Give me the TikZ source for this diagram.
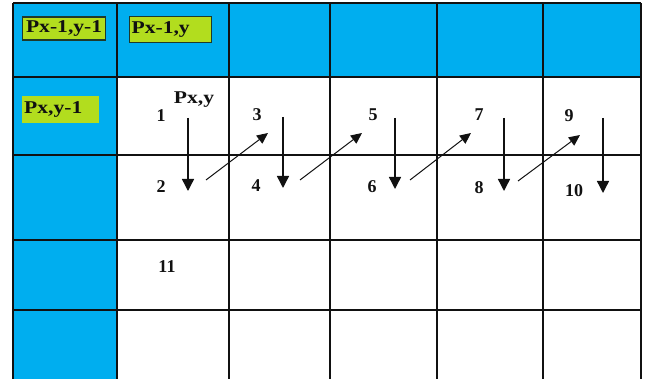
\documentclass[tikz,border=0pt]{standalone}
\usepackage{fontspec}
\setmainfont{Liberation Serif}
\usepackage{xcolor}
\usepackage{tikz}
\usetikzlibrary{positioning, arrows.meta}
\definecolor{gBlue}{HTML}{00AEEF}
\definecolor{gLime}{HTML}{B2DD1E}
\definecolor{gInk}{HTML}{111111}
\definecolor{gEdge}{HTML}{1F3A2A}
\newcommand{\widetext}[1]{\scalebox{1.2}[1]{#1}}
\tikzset{
  gridline/.style={line width=2.6pt, gInk},
  pixlabel/.style={fill=gLime, inner xsep=1pt, inner ysep=0pt, anchor=west,
    font=\fontsize{18}{18}\selectfont\bfseries, text=gInk},
  steplabel/.style={font=\fontsize{18}{18}\selectfont\bfseries, text=gInk},
  godown/.style={-{Triangle[length=12pt,width=12pt]}, line width=1.4pt, gInk},
  goup/.style={-{Triangle[length=11pt,width=10pt]}, line width=1pt, gInk},
}

\begin{document}
\begin{tikzpicture}[x=1pt, y=-1pt]
  \useasboundingbox (0,0) rectangle (645,379);
  % shaded border cells
  \fill[gBlue] (13,3) rectangle (641,77);
  \fill[gBlue] (13,3) rectangle (117,379);
  % grid
  \foreach \gx in {13,117,229,330,437,543,641}
    \draw[gridline] (\gx,3) -- (\gx,379);
  \foreach \gy in {3,77,155,240,310}
    \draw[gridline] (13,\gy) -- (641,\gy);

  % neighbour labels
  \node[pixlabel, draw=gEdge, line width=1.2pt, minimum width=83pt, minimum height=23pt] (pul) at (22,28.5) {\widetext{Px-1,y-1}};
  \node[pixlabel, draw=gEdge, line width=1.2pt, minimum width=82pt, minimum height=26pt, text width=78pt] (pu) at (129,29.5) {\widetext{Px-1,y}};
  \node[pixlabel, minimum width=77pt, minimum height=27pt, text width=73pt] (pl) at (22,109.5) {\widetext{Px,y-1}};

  % scan order
  \node[steplabel] (n1) at (161,116) {1};
  \node[steplabel] (pxy) at (194,100) {\widetext{Px,y}};
  \node[steplabel] (n2) at (161,187) {2};
  \node[steplabel] (n3) at (257,115) {3};
  \node[steplabel] (n4) at (256,186) {4};
  \node[steplabel] (n5) at (373,115) {5};
  \node[steplabel] (n6) at (372,187) {6};
  \node[steplabel] (n7) at (479,115) {7};
  \node[steplabel] (n8) at (479,188) {8};
  \node[steplabel] (n9) at (569,116) {9};
  \node[steplabel] (n10) at (574,191) {10};
  \node[steplabel] (n11) at (167,267) {11};

  \coordinate (d1a) at (188,118); \coordinate (d1b) at (188,191);
  \coordinate (d2a) at (283,117); \coordinate (d2b) at (283,188);
  \coordinate (d3a) at (395,118); \coordinate (d3b) at (395,189);
  \coordinate (d4a) at (504,118); \coordinate (d4b) at (504,191);
  \coordinate (d5a) at (603,118); \coordinate (d5b) at (603,193);
  \coordinate (u1a) at (206,180); \coordinate (u1b) at (268,133);
  \coordinate (u2a) at (300,180); \coordinate (u2b) at (362,133);
  \coordinate (u3a) at (410,180); \coordinate (u3b) at (471,133);
  \coordinate (u4a) at (518,181); \coordinate (u4b) at (580,135);

  \draw[godown] (d1a) -- (d1b);
  \draw[godown] (d2a) -- (d2b);
  \draw[godown] (d3a) -- (d3b);
  \draw[godown] (d4a) -- (d4b);
  \draw[godown] (d5a) -- (d5b);
  \draw[goup] (u1a) -- (u1b);
  \draw[goup] (u2a) -- (u2b);
  \draw[goup] (u3a) -- (u3b);
  \draw[goup] (u4a) -- (u4b);
\end{tikzpicture}
\end{document}
